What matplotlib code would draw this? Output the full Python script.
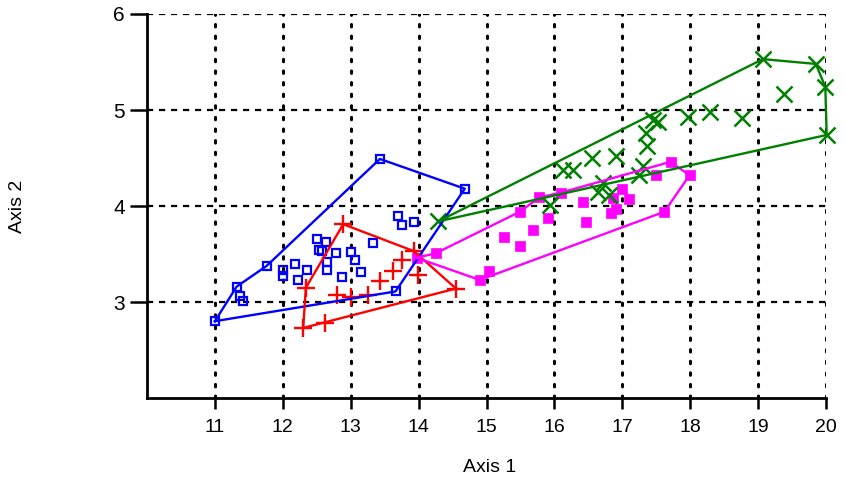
import matplotlib
matplotlib.use("Agg")
import matplotlib.pyplot as plt

# ---- data ----
blue_x = [11.00, 11.32, 11.76, 13.43, 14.68, 13.66,
          11.37, 11.41, 12.00, 12.00, 12.18, 12.22, 12.36, 12.51, 12.64, 12.53,
          12.58, 12.79, 12.65, 12.65, 13.01, 13.07, 13.33, 12.87, 13.15, 13.70,
          13.75, 13.93]
blue_y = [2.80, 3.16, 3.375, 4.49, 4.18, 3.11,
          3.06, 3.01, 3.33, 3.27, 3.40, 3.23, 3.33, 3.66, 3.62, 3.54,
          3.53, 3.51, 3.42, 3.33, 3.52, 3.44, 3.61, 3.26, 3.31, 3.90,
          3.80, 3.83]
blue_hull = [0, 1, 2, 3, 4, 5, 0]

red_x = [12.89, 13.93, 14.55, 12.30, 12.34,
         12.62, 12.80, 13.01, 13.26, 13.43, 13.62, 13.75, 13.99]
red_y = [3.81, 3.53, 3.14, 2.73, 3.15,
         2.78, 3.07, 3.05, 3.07, 3.22, 3.32, 3.44, 3.28]
red_hull = [0, 1, 2, 3, 4, 0]

magenta_x = [13.97, 14.26, 15.49, 15.78, 16.10, 17.71, 17.99, 17.62, 14.90,
             15.03, 15.26, 15.49, 15.68, 15.91, 16.42, 16.46, 16.86, 16.83,
             16.90, 17.00, 17.10, 17.49]
magenta_y = [3.46, 3.51, 3.94, 4.09, 4.14, 4.46, 4.32, 3.94, 3.23,
             3.32, 3.68, 3.58, 3.75, 3.87, 4.04, 3.83, 4.08, 3.93,
             3.97, 4.18, 4.07, 4.32]
magenta_hull = [0, 1, 2, 3, 4, 5, 6, 7, 8, 0]

green_x = [14.29, 19.07, 19.85, 19.99, 20.01,
           19.38, 18.76, 18.29, 17.97, 17.45, 17.53, 17.35, 17.37, 17.30,
           17.25, 16.91, 16.56, 16.27, 16.12, 16.71, 16.64, 16.81, 15.93]
green_y = [3.84, 5.53, 5.48, 5.24, 4.74,
           5.17, 4.92, 4.98, 4.93, 4.90, 4.87, 4.76, 4.62, 4.42,
           4.32, 4.52, 4.50, 4.38, 4.38, 4.24, 4.15, 4.11, 4.01]
green_hull = [0, 1, 2, 3, 4, 0]

x_ticks = [11, 12, 13, 14, 15, 16, 17, 18, 19, 20]
y_ticks = [3, 4, 5, 6]
x_label = "Axis 1"
y_label = "Axis 2"

# ---- figure ----
plt.rcParams['font.family'] = ['Liberation Sans', 'DejaVu Sans']
fig = plt.figure(figsize=(8.46, 4.80), dpi=100)
ax = fig.add_axes([147 / 846, 82 / 480, 679 / 846, 384 / 480])
ax.set_xlim(10, 20)
ax.set_ylim(2, 6)

# grid
for xv in x_ticks:
    ax.axvline(xv, color='black', lw=2.2, ls=(0, (0.8, 3.0)),
               dash_capstyle='round', zorder=0.5)
for yv in y_ticks:
    ax.axhline(yv, color='black', lw=1.6, ls=(0, (2.8, 2.6)), zorder=0.5)

groups = [
    (blue_x, blue_y, blue_hull, '#0000ff',
     dict(marker='s', ms=6.0, mfc='none', mew=1.6)),
    (red_x, red_y, red_hull, '#ff0000',
     dict(marker='+', ms=13, mew=1.7)),
    (magenta_x, magenta_y, magenta_hull, '#ff00ff',
     dict(marker='s', ms=7.5, mew=0.5)),
    (green_x, green_y, green_hull, '#008000',
     dict(marker='x', ms=11.5, mew=1.8)),
]

for gx, gy, hull, col, mk in groups:
    ax.plot(gx, gy, ls='none', color=col, mec=col, clip_on=False, zorder=3,
            **mk)

for gx, gy, hull, col, mk in groups:
    hx = [gx[i] for i in hull]
    hy = [gy[i] for i in hull]
    ax.plot(hx, hy, color=col, lw=1.7, clip_on=False, zorder=4)

# axes styling
for s in ['top', 'right']:
    ax.spines[s].set_visible(False)
for s in ['left', 'bottom']:
    ax.spines[s].set_linewidth(2.0)
ax.set_xticks(x_ticks)
ax.set_yticks(y_ticks)
ax.set_xticklabels([str(v) for v in x_ticks])
ax.set_yticklabels([str(v) for v in y_ticks])
ax.tick_params(axis='y', direction='out', length=12, width=1.8, pad=4,
               labelsize=15)
ax.tick_params(axis='x', direction='out', length=8, width=1.8, pad=7,
               labelsize=14)

ax.set_xlabel(x_label, fontsize=14)
ax.set_ylabel(y_label, fontsize=14)
ax.xaxis.set_label_coords(0.505, -0.18)
ax.xaxis.label.set_va('center')
ax.yaxis.set_label_coords(-0.19, 0.5)
ax.yaxis.label.set_va('center')

fig.savefig("out.png", dpi=100)
